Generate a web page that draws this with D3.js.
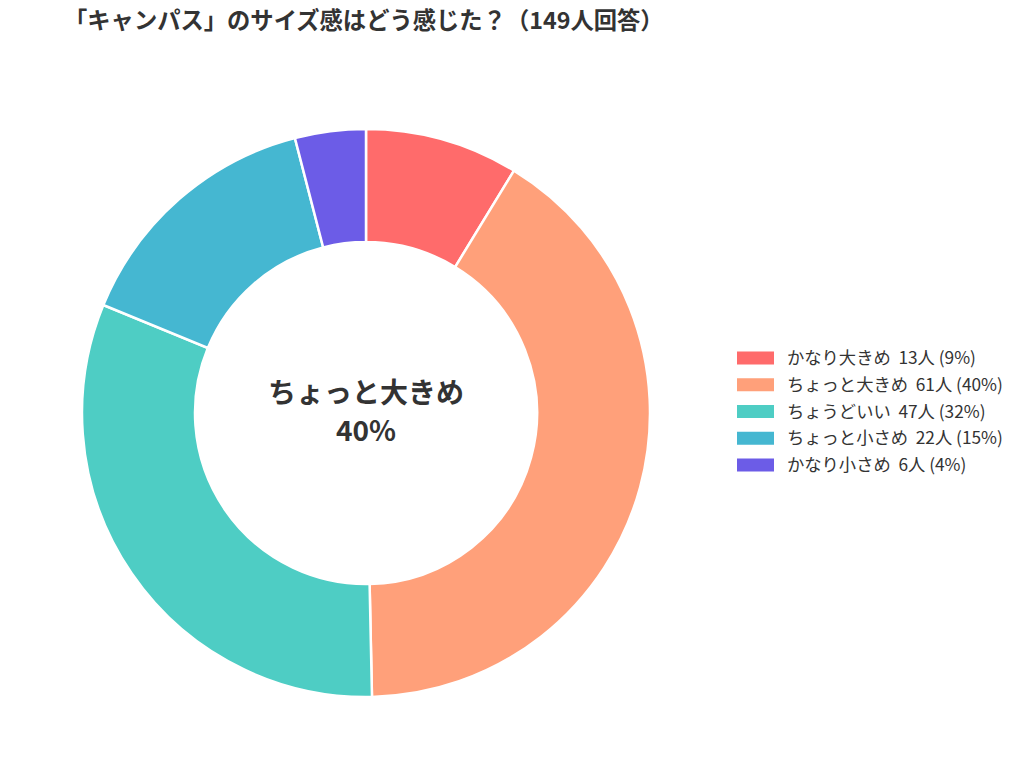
<!DOCTYPE html>
<html>
<head>
<meta charset="utf-8">
<script src="https://cdn.jsdelivr.net/npm/d3@7"></script>
<style>
  body { margin: 0; background: #fff; }
  svg text { font-family: "Noto Sans CJK JP", "Noto Sans", sans-serif; fill: #333; }
</style>
</head>
<body>
<svg id="chart" width="1024" height="780"></svg>
<script>
const titleText = "「キャンパス」のサイズ感はどう感じた？（149人回答）";
const categories = ["かなり大きめ", "ちょっと大きめ", "ちょうどいい", "ちょっと小さめ", "かなり小さめ"];
const counts = [13, 61, 47, 22, 6];
const percentLabels = ["9%", "40%", "32%", "15%", "4%"];
const colors = ["#FF6B6B", "#FFA07A", "#4ECDC4", "#45B7D1", "#6C5CE7"];

const width = 1024;
const height = 780;
const cx = 366, cy = 413;
const outerR = 284, innerR = 171;

const svg = d3.select('#chart');

svg.append('text')
    .attr('x', 64)
    .attr('y', 29)
    .attr('font-size', 23.3)
    .attr('font-weight', 'bold')
    .text(titleText);

const data = categories.map((c, i) => ({ name: c, value: counts[i], pct: percentLabels[i], color: colors[i] }));

const pie = d3.pie().sort(null).value(d => d.value);
const arc = d3.arc().innerRadius(innerR).outerRadius(outerR);

const g = svg.append('g').attr('transform', `translate(${cx},${cy})`);
g.selectAll('path')
    .data(pie(data))
    .join('path')
    .attr('d', arc)
    .attr('fill', d => d.data.color)
    .attr('stroke', '#fff')
    .attr('stroke-width', 2.5);

// center label = biggest slice
const biggest = data.reduce((a, b) => (b.value > a.value ? b : a));
g.append('text')
    .attr('text-anchor', 'middle')
    .attr('y', -10)
    .attr('font-size', 28)
    .attr('font-weight', 'bold')
    .text(biggest.name);
g.append('text')
    .attr('text-anchor', 'middle')
    .attr('y', 28)
    .attr('font-size', 28)
    .attr('font-weight', 'bold')
    .text(biggest.pct);

// legend
const legendY = d3.scalePoint().domain(categories).range([358, 465]);
const legend = svg.append('g');
const rows = legend.selectAll('g')
    .data(data)
    .join('g')
    .attr('transform', d => `translate(737,${legendY(d.name)})`);
rows.append('rect')
    .attr('x', 0)
    .attr('y', -6.5)
    .attr('width', 37)
    .attr('height', 13)
    .attr('fill', d => d.color);
rows.append('text')
    .attr('x', 50)
    .attr('y', 0)
    .attr('dy', '0.35em')
    .attr('font-size', 17.3)
    .attr('xml:space', 'preserve')
    .text(d => `${d.name}  ${d.value}人 (${d.pct})`);
</script>
</body>
</html>
